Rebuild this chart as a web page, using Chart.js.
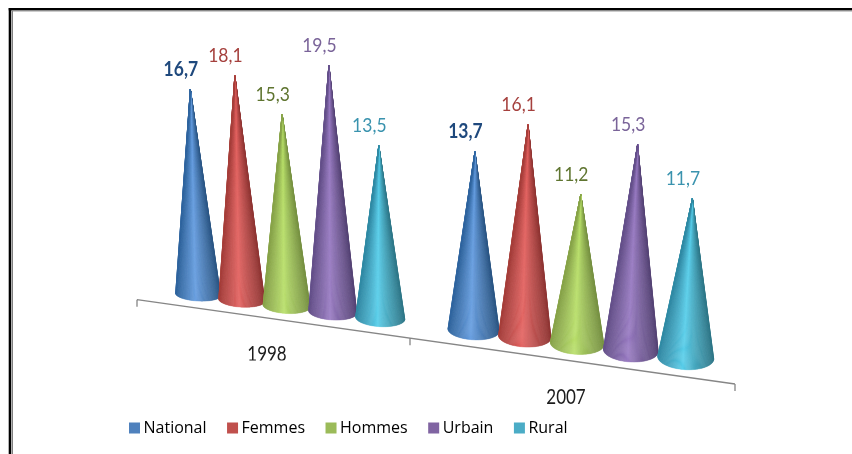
<!DOCTYPE html>
<html>
<head>
<meta charset="utf-8">
<style>html,body{margin:0;padding:0;background:#fff}canvas{display:block}</style>
<script src="https://cdn.jsdelivr.net/npm/chart.js@4/dist/chart.umd.min.js"></script>
</head>
<body>
<canvas id="c" width="852" height="454"></canvas>
<script>
const categories = ['1998', '2007'];
const national = [16.7, 13.7];
const femmes = [18.1, 16.1];
const hommes = [15.3, 11.2];
const urbain = [19.5, 15.3];
const rural = [13.5, 11.7];
const seriesNames = ['National', 'Femmes', 'Hommes', 'Urbain', 'Rural'];
const seriesValues = [national, femmes, hommes, urbain, rural];
const legendColors = ['#4F81BD', '#C0504D', '#9BBB59', '#8064A2', '#4BACC6'];
const labelColors = ['#1F497D', '#A5403D', '#5F7530', '#7A6499', '#3A93AE'];
const shades = [
  ['#30659E', '#659DE0', '#2B5684'],
  ['#A63E3B', '#E36260', '#8E3533'],
  ['#88A44A', '#B8DF6A', '#769042'],
  ['#65508A', '#987AC2', '#554374'],
  ['#318AA5', '#58CEEA', '#2E7687']
];

function hex(c){return [1,3,5].map(i=>parseInt(c.substr(i,2),16));}
function shade(tri,t){
  const p = -0.1, a = t<p ? hex(tri[0]) : hex(tri[1]), b = t<p ? hex(tri[1]) : hex(tri[2]);
  const f = t<p ? (t+1)/(p+1) : (t-p)/(1-p);
  const e = t<p ? Math.pow(f,1.25) : Math.pow(f,0.9);
  return 'rgb('+a.map((v,i)=>Math.round(v+(b[i]-v)*e)).join(',')+')';
}
function stretchedText(ctx,text,x,y,font,color,sy){
  ctx.save();
  ctx.font=font;ctx.fillStyle=color;ctx.textAlign='center';ctx.textBaseline='middle';
  ctx.translate(x,y);ctx.scale(1,sy);ctx.fillText(text,0,0);
  ctx.restore();
}
// Oblique 3D view: chart-area fraction u -> screen position
const markX = u => 158 + 492.5*u + 88.5*u*u;
const axisX = u => 137 + 494*u + 104*u*u;
const axisY = x => 299.7 + 0.141*(x-137);
const floorY = x => 294.5 + 0.1295*(x-198);
const unitPx = x => 12.28 + 0.0027*(x-198);

const conePlugin = {
  id:'cones',
  afterDatasetsDraw(chart){
    const ctx=chart.ctx, area=chart.chartArea, ys=chart.scales.y, xs=chart.scales.x;
    const ppu=(ys.getPixelForValue(0)-ys.getPixelForValue(1));
    const fr = x => (x-area.left)/area.width;

    // axis line + ticks
    ctx.save();
    ctx.strokeStyle='#868686';ctx.lineWidth=1.3;
    ctx.beginPath();
    ctx.moveTo(axisX(0),axisY(axisX(0)));ctx.lineTo(axisX(1),axisY(axisX(1)));
    [0,0.5,1].forEach(u=>{const X=axisX(u);ctx.moveTo(X,axisY(X));ctx.lineTo(X,axisY(X)+7);});
    ctx.stroke();
    ctx.restore();

    // cones
    const marks=[];
    seriesValues.forEach((vals,d)=>{
      chart.getDatasetMeta(d).data.forEach((el,i)=>{
        marks.push({d,v:vals[i],cx:markX(fr(el.x))});
      });
    });
    marks.sort((a,b)=>a.cx-b.cx);
    const tips=[];
    marks.forEach(m=>{
      const cx=m.cx, by=floorY(cx);
      const h=(ys.getPixelForValue(0)-ys.getPixelForValue(m.v))/ppu*unitPx(cx);
      const w=22.5+0.0113*(cx-198), ry=6.5+0.0113*(cx-198), rot=0.055;
      const tx=cx+0.000164*(cx-430)*h, ty=by-h;
      const n=80, cr=Math.cos(rot), sr=Math.sin(rot);
      const pt=a=>{const ex=w*Math.cos(a),ey=ry*Math.sin(a);return [cx+ex*cr-ey*sr,by+ex*sr+ey*cr];};
      for(let k=0;k<n;k++){
        const a0=-0.04+(Math.PI+0.08)*k/n, a1=-0.04+(Math.PI+0.08)*(k+1)/n;
        const p0=pt(a0),p1=pt(a1),col=shade(shades[m.d],Math.cos((a0+a1)/2));
        ctx.beginPath();ctx.moveTo(tx,ty);ctx.lineTo(p0[0],p0[1]);ctx.lineTo(p1[0],p1[1]);ctx.closePath();
        ctx.fillStyle=col;ctx.strokeStyle=col;ctx.lineWidth=0.4;ctx.fill();ctx.stroke();
      }
      tips.push({m,tx,ty});
    });
    // value labels
    tips.forEach(t=>{
      const txt=t.m.v.toFixed(1).replace('.',',');
      const font=(t.m.d===0?'bold ':'')+'17.5px Lato';
      stretchedText(ctx,txt,t.tx-9.5,t.ty-20,font,labelColors[t.m.d],1.15);
    });
    // category labels
    categories.forEach((c,i)=>{
      const X=axisX(fr(xs.getPixelForValue(i)));
      ctx.save();
      ctx.beginPath();ctx.rect(0,0,852,i===0?360.5:454);ctx.clip();
      stretchedText(ctx,c,X,axisY(X)+36.5,'17px Lato','#1c1c1c',1.27);
      ctx.restore();
    });
    // frame
    ctx.fillStyle='#000';
    ctx.fillRect(8.7,8,843.3,2.4);
    ctx.fillRect(8.7,8,2.6,446);
    ctx.fillStyle='#808080';
    ctx.fillRect(12,10.4,840,1);
    ctx.fillRect(12,10.4,1,444);
  }
};

new Chart(document.getElementById('c'),{
  type:'bar',
  data:{
    labels:categories,
    datasets:seriesNames.map((n,i)=>({label:n,data:seriesValues[i],backgroundColor:'rgba(0,0,0,0)',borderWidth:0,categoryPercentage:0.848,barPercentage:1}))
  },
  options:{
    responsive:false,animation:false,
    layout:{padding:{left:108.5,right:20,top:40,bottom:8}},
    scales:{
      x:{display:false,grid:{display:false}},
      y:{display:false,min:0,max:25,grid:{display:false}}
    },
    plugins:{
      tooltip:{enabled:false},
      legend:{
        display:true,position:'bottom',align:'start',
        labels:{
          boxWidth:2,boxHeight:2,padding:25,color:'#222',
          font:{family:'"Open Sans"',size:16},
          generateLabels:()=>seriesNames.map((n,i)=>({text:n,fillStyle:legendColors[i],strokeStyle:legendColors[i],lineWidth:9,datasetIndex:i,hidden:false}))
        }
      }
    }
  },
  plugins:[conePlugin]
});
</script>
</body>
</html>
